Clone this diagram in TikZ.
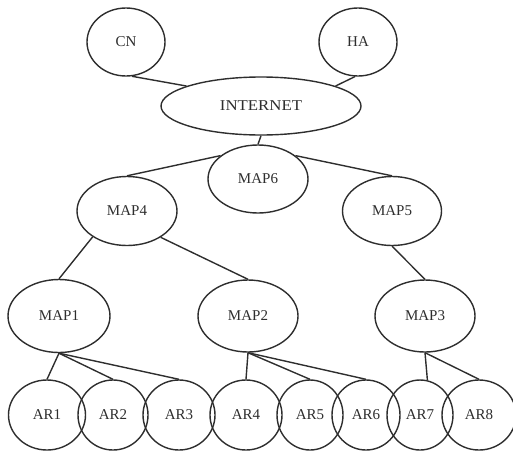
\documentclass[tikz,border=0pt]{standalone}
\usepackage{fontspec}
\setmainfont{Liberation Serif}
\usetikzlibrary{shapes.geometric}
\definecolor{ink}{HTML}{2E2E2E}
\tikzset{
  elnode/.style={ellipse, draw=ink, line width=1.4pt, inner sep=0pt, text=ink,
    font=\fontsize{15}{15}\selectfont},
  link/.style={draw=ink, line width=1.4pt},
}
\begin{document}
\begin{tikzpicture}[x=1pt,y=-1pt]
\useasboundingbox (0,0) rectangle (513,453);
\node[elnode, minimum width=78pt, minimum height=68pt] (cn) at (126,42) {CN};
\node[elnode, minimum width=78pt, minimum height=68pt] (ha) at (358,42) {HA};
\node[elnode, minimum width=200pt, minimum height=58pt] (inet) at (261,106) {\scalebox{1.12}[1]{INTERNET}};
\node[elnode, minimum width=100pt, minimum height=68pt] (m6) at (258,179) {MAP6};
\node[elnode, minimum width=100pt, minimum height=69pt] (m4) at (127,211) {MAP4};
\node[elnode, minimum width=99pt, minimum height=69pt] (m5) at (392,211) {MAP5};
\node[elnode, minimum width=102pt, minimum height=73pt] (m1) at (59,316) {MAP1};
\node[elnode, minimum width=100pt, minimum height=72pt] (m2) at (248,316) {MAP2};
\node[elnode, minimum width=100pt, minimum height=72pt] (m3) at (425,316) {MAP3};
\node[elnode, minimum width=77pt, minimum height=70pt] (a1) at (47,415) {AR1};
\node[elnode, minimum width=70pt, minimum height=70pt] (a2) at (113,415) {AR2};
\node[elnode, minimum width=72pt, minimum height=70pt] (a3) at (179,415) {AR3};
\node[elnode, minimum width=72pt, minimum height=70pt] (a4) at (246,415) {AR4};
\node[elnode, minimum width=66pt, minimum height=70pt] (a5) at (310,415) {AR5};
\node[elnode, minimum width=68pt, minimum height=70pt] (a6) at (366,415) {AR6};
\node[elnode, minimum width=66pt, minimum height=70pt] (a7) at (420,415) {AR7};
\node[elnode, minimum width=74pt, minimum height=70pt] (a8) at (479,415) {AR8};

\draw[link] (cn.280) -- (inet.165);
\draw[link] (ha.265) -- (inet.15);
\draw[link] (inet.south) -- (m6.north);
\draw[link] (m6.148) -- (m4.north);
\draw[link] (m6.32) -- (m5.north);
\draw[link] (m4.217) -- (m1.north);
\draw[link] (m4.322) -- (m2.north);
\draw[link] (m5.south) -- (m3.north);
\draw[link] (m1.south) -- (a1.north);
\draw[link] (m1.south) -- (a2.north);
\draw[link] (m1.south) -- (a3.north);
\draw[link] (m2.south) -- (a4.north);
\draw[link] (m2.south) -- (a5.north);
\draw[link] (m2.south) -- (a6.north);
\draw[link] (m3.south) -- (a7.78);
\draw[link] (m3.south) -- (a8.north);
\end{tikzpicture}
\end{document}
